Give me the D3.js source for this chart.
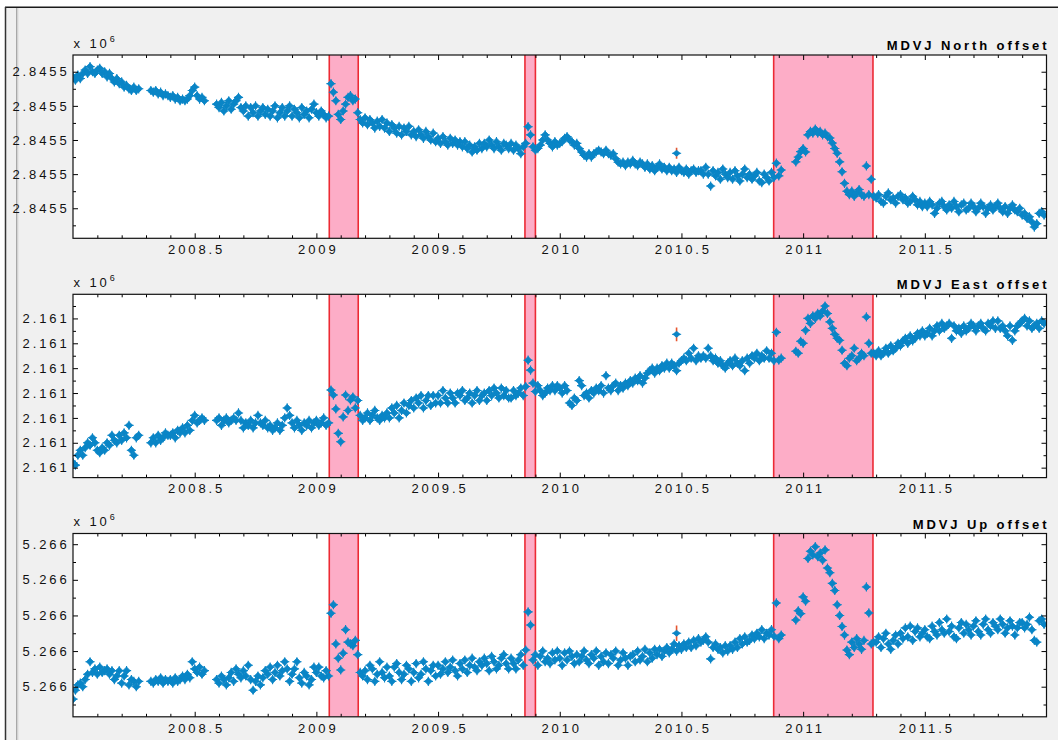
<!DOCTYPE html>
<html>
<head>
<meta charset="utf-8">
<script src="https://cdn.jsdelivr.net/npm/d3@7"></script>
<style>
  body { margin: 0; background: #fff; }
  text { font-family: "Liberation Sans", Arial, Helvetica, sans-serif; }
</style>
</head>
<body>
<svg id="chart" width="1058" height="740"></svg>
<script>
// ---------------- DATA (offsets in mm, one value per 0.01 yr from 2008.00; null = no data) -------------
const epochStart = 2008.00;
const epochStep = 0.01;

const northValues = [
  38.5, 37.5, 39, 38, 39.5, 40.5, 39.5, 41.5, 40, 39.5,
  40.5, 41, 39.5, 40, 38.5, 39.5, 38, 37, 38, 36.5,
  37, 35.5, 36, 35, 34.5, 35.5, 34.5, 35, null, null,
  null, null, 34.5, 34, 34.5, 33.5, 34, 33, 33.5, 33,
  32.5, 33, 32, 32.5, 31.5, 32, 31.5, 32, 33, 34.5,
  35.5, 33, 32, 32.5, 31.5, null, null, null, null, 30.5,
  29.5, 31, 28.5, 30, 31.5, 29, 30.5, 31.5, 32.5, 29.5,
  28.5, 30, 27, 29.5, 28, 30, 27, 28.5, 29.5, 27.5,
  29, 27, 28.5, 30, 26.5, 28, 29.5, 27, 28.5, 30,
  27, 29, 28, 26.5, 29.5, 27.5, 28.5, 26.5, 29, 30.5,
  28, 27, 28.5, 27.5, 26.5, 27, 36.5, 34, 31.5, 27.5,
  26, 28.5, 30.5, 32.5, 33, 31.5, 32, 28, 26, 25,
  26.5, 24.5, 26, 25, 23.5, 25.5, 24, 26, 23.5, 25,
  22.5, 24.5, 23.5, 22, 24, 21.5, 23.5, 22.5, 24, 21.5,
  22.5, 21, 23, 21.5, 20.5, 22.5, 21, 20, 22, 19.5,
  20.5, 19, 21, 19.5, 18.5, 20.5, 19, 20, 18.5, 19.5,
  18, 19.5, 17.5, 18.5, 16.5, 18, 17, 19, 17.5, 19,
  18, 20, 18.5, 17.5, 19.5, 18, 17, 19, 18.5, 17.5,
  19, 17, 18.5, 17.5, 16, 18, 19, 23.9, 21.5, 18,
  17, 17.5, 18.5, 20, 21.5, 20, 19, 18, 19.5, 18.5,
  19, 19.5, 20.5, 21, 20, 19.5, 18.5, 19, 17.5, 16.5,
  15.5, 15, 16, 15, 16, 16.5, 17, 16.5, 16, 17,
  16, 15.5, 16, 14.5, 13.5, 13, 13.5, 12.5, 13.5, 13,
  14, 13, 12.5, 13.5, 13, 12, 13, 11.5, 12.5, 11,
  12, 13, 11.5, 12, 11, 12, 11, 11.5, 10.5, 12,
  11, 10.5, 11.5, 10, 11, 11.5, 10.5, 11, 11, 10,
  12, 10, 6.5, 11, 9.5, 10.5, 8.5, 11.5, 10, 9,
  10.5, 8.5, 11, 9.5, 8, 10, 11.5, 9, 10, 8.5,
  9.5, 10.5, 8, 7.5, 10, 9, 8, 10.5, 9, 13.2,
  9.5, 11.2, null, null, null, null, null, 13.6, 15, 16.6,
  17.5, 16.5, 21.5, 22.5, 22, 23.2, 22, 22.5, 21.5, 22,
  21, 20.6, 19.1, 17.5, 16.1, 13.6, 10.7, 7.3, 5, 4,
  5, 3.5, 4.5, 5.5, 4, 3.5, 12.4, 4, 8.5, 3.5,
  3, 4, 2, 1.5, 3.5, 4.5, 2.5, 3, 1.5, 3.5,
  4, 2.5, 3, 1.5, 2, 3.5, 2.5, 1, 2, 0.5,
  1.5, 0.5, 2, 1, -1.5, 0, 1.5, 2, 0.5, -0.5,
  1, 0, 2, 0.5, -1, 1, 1.5, -0.5, 0, 1.5,
  0.5, -1, 0, 1.5, 0.5, -1.5, 0, 1, -0.5, 0.5,
  1.5, 0, -1, 0.5, -1.5, 0, 1, -0.5, -1, 0,
  -2, -1.5, -3, -2.5, -4, -5.5, -4.5, -1.5, -1, -2
];

const eastValues = [
  1, 0.5, 2.5, 3.5, 2.5, 4, 5, 4.5, 6, 5,
  3.5, 3, 4, 3.5, 5, 4.5, 6.5, 5.5, 5, 6.5,
  5.5, 7, 6, 8.5, 3.5, 2.5, 6, 6.5, null, null,
  null, null, 5, 6, 5, 6.5, 5.5, 6, 7, 6.5,
  6.5, 7, 6, 7.5, 7, 8, 7, 8.5, 7.5, 9.5,
  10.5, 9, 9.5, 10, 9.5, null, null, null, null, 9.5,
  10, 8.5, 9.5, 10, 9, 9.5, 10, 9.5, 11, 9.5,
  8, 9, 8.5, 9.5, 8, 9, 10.5, 9, 8.5, 9.5,
  8, 8.5, 7.5, 8, 9, 7.5, 8.5, 10, 12, 10.5,
  9, 8, 9.5, 8.5, 7.5, 9, 8.5, 9.5, 8, 9,
  9.5, 8.5, 9, 10, 8.5, 9, 15.6, 14.6, 11.8, 6.9,
  5.2, 10.2, 14.6, 11.5, 13.6, 14.2, 12, 13.5, 10.5, 9.5,
  10, 11, 9.5, 10.5, 11.5, 10, 9.5, 10.5, 10, 11,
  10, 12, 11, 12.5, 10, 11.5, 13, 11, 12.5, 13.5,
  12, 14, 13, 14.5, 12, 13.5, 14.5, 12.5, 14.5, 13,
  14.5, 13, 15.5, 14, 13, 15, 14, 13, 15, 14.5,
  15.5, 13.5, 14, 15, 13, 14.5, 15.5, 13.5, 14.5, 15,
  13.5, 15.5, 14.5, 16, 15, 14, 16, 14.5, 15.5, 14,
  14, 15.5, 14.5, 15, 16, 14.5, 16.3, 21.6, 19.6, 17,
  15.3, 16.5, 15.5, 14.5, 15, 16, 15.5, 16.5, 15.5, 16.5,
  16, 15, 16.5, 15.5, 13, 12.5, 14, 13.5, 17.5, 16.5,
  14.5, 15, 14, 15.5, 15, 16, 15.5, 16.5, 15, 18.5,
  16, 15.5, 16.5, 17, 15.5, 16.5, 16, 17, 16.5, 17.5,
  17, 18, 17.5, 18.5, 17, 18, 19, 19.5, 20, 19,
  20, 19.5, 20.5, 20, 21, 20, 21, 20.5, 19.5, 21,
  21.5, 22, 21.5, 23, 22, 24, 21.5, 22.5, 22, 22.5,
  22, 24, 22.5, 21.5, 22, 21, 21.5, 20.5, 20, 21,
  21.5, 20.5, 22, 21, 20.5, 21.5, 19.5, 22, 21, 22.5,
  22, 23, 21.5, 22.5, 22, 23.5, 22, 23, 21.5, 27.2,
  21.6, 22, null, null, null, null, null, 23.4, 23, 25.4,
  25, 27.6, 30, 29, 30.5, 30, 31, 30.5, 31.5, 32.5,
  31, 29.3, 28, 26.8, 26, 25.6, 23.6, 21, 20.5, 22,
  22.5, 24, 21.5, 22, 23, 22.5, 30.3, 25, 23, 23,
  22.5, 23.5, 22.5, 23, 24, 23, 24.5, 23.5, 24, 25,
  24.5, 25.5, 26, 25, 26.5, 25.5, 26, 27, 26.5, 27.5,
  26.5, 27, 28, 26.5, 27.5, 28.5, 27.5, 29, 28, 28.5,
  29, 26, 28.5, 27.5, 28, 27, 28.5, 27.5, 28, 29,
  28.5, 27.5, 28.5, 29, 28, 27.5, 29, 28.5, 29.5, 28,
  29.5, 28, 28.5, 27.5, 26.5, 28.5, 25.6, 27.5, 28.5, 29,
  29.5, 30, 28.5, 29.5, 28, 28.5, 29, 28, 29.5, 29
];

const upValues = [
  -3.5, -1, 0.5, 1, 0, 2, 3.5, 7, 4, 5,
  3.5, 5.5, 4, 4.5, 5, 3.5, 4.5, 2, 3, 4.5,
  1, 3, 4.5, 0.5, 2, 1.5, 0, 1.5, null, null,
  null, null, 1.5, 1, 2, 1.5, 2.5, 1, 2, 1.5,
  2, 1, 2.5, 1.5, 2, 3, 2, 3.5, 2.5, 7,
  5, 4, 5.5, 3.5, 4.5, null, null, null, null, 2,
  1, 3, 2, 0.5, 2.5, 4, 1.5, 5, 3.5, 2.5,
  4.5, 3, 6, 2, -1, 1.5, 3, 0.5, 2.5, 4.5,
  3.5, 5.5, 2, 4, 6, 3, 4.5, 7, 5, 1.5,
  3.5, 5, 7, 2.5, 1, 4, 3, 0.5, 2, 5.5,
  4, 5.5, 3, 2.5, 4.5, 3, 20.6, 23, 12, 8,
  4.7, 9.4, 16, 12.5, 12, 11.5, 13, 9, 4, 3,
  4.5, 2, 6, 5, 1.5, 3.5, 7, 4, 2.5, 5.5,
  3, 1.5, 5.5, 6.5, 4, 2, 3.5, 6, 5, 1.5,
  4, 6.5, 2.5, 3.5, 7, 5, 1.5, 4.5, 6, 3,
  6, 3.5, 5, 7, 4, 5.5, 7.5, 4.5, 3, 6.5,
  5, 7.5, 4, 6, 8, 5.5, 4.5, 7, 6, 8,
  6.5, 4.5, 8.5, 7, 5, 6, 8, 9, 6.5, 5,
  8, 6.5, 5, 7.5, 9, 6, 10.3, 21, 17.3, 7.5,
  9, 6, 8.5, 10, 7, 8, 6.5, 9.5, 7.5, 10,
  8, 6, 9.5, 7.5, 10, 8.5, 6.5, 9, 7, 8.5,
  10, 7.5, 6.5, 9, 8, 10, 6, 8.5, 7, 9.5,
  6.5, 9, 8, 10, 6, 7.5, 9.5, 8, 6, 8.5,
  9, 7, 10, 7.5, 8.5, 10.5, 7, 9.5, 8, 10.5,
  9, 10.5, 8.5, 10, 11, 9.5, 10.5, 12, 10, 11.5,
  10.5, 12, 11, 12.5, 11, 13, 11.5, 13.5, 12.5, 13,
  14, 12.5, 7.8, 11, 12, 10.5, 11, 9.5, 11.5, 10,
  11.5, 10.5, 12.5, 11, 13.5, 12, 14, 12.5, 13, 14.5,
  13.5, 15, 14, 16, 13.5, 15, 14.5, 16, 14.2, 23.5,
  13.5, 14.5, null, null, null, null, null, 18.7, 21.3, 20.5,
  25.2, 24, 36, 38, 37, 39.3, 36.5, 37.5, 35.5, 38.4,
  33.3, 32, 29, 27, 23, 20, 16.9, 14.5, 10.3, 9,
  12.5, 11, 13.5, 12, 10.5, 13, 28, 20.7, 12, 12.5,
  12.5, 14, 11, 13.5, 15, 12, 10.5, 13, 14.5, 12,
  15, 13.5, 16.5, 14, 17, 13, 15.5, 16.5, 14, 15,
  16, 14, 13.5, 17, 15.5, 14.5, 18, 16, 15, 19,
  15.5, 17, 14, 13.5, 16.5, 18, 15, 17.5, 16, 14.5,
  17, 18.5, 15.5, 14.5, 17.5, 19, 16, 15, 18, 17,
  16, 19, 17.5, 15, 16.5, 18.5, 17, 14.5, 16.5, 18,
  18, 16.5, 17.5, 19.5, 16, 13, 12.5, 18.5, 19, 17.5
];

// single epoch flagged with a large error bar
const outlierEpoch = 2010.48;
const outlierValues = [16.1, 26.8, 15];
const outlierErrors = [1.6, 1.4, 2.2];

// shaded event windows
const eventStarts = [2009.053, 2009.857, 2010.879];
const eventEnds   = [2009.172, 2009.900, 2011.287];

// axes
const xDomain = [2008, 2012];
const xMajorTicks = [2008.5, 2009, 2009.5, 2010, 2010.5, 2011, 2011.5];
const xTickLabels = ["2008.5", "2009", "2009.5", "2010", "2010.5", "2011", "2011.5"];

const northDomain = [-8.8, 44.9];
const northTicks = [0, 10, 20, 30, 40];
const northTickLabels = ["2.8455", "2.8455", "2.8455", "2.8455", "2.8455"];

const eastDomain = [-2.0, 34.85];
const eastTicks = [0, 5, 10, 15, 20, 25, 30];
const eastTickLabels = ["2.161", "2.161", "2.161", "2.161", "2.161", "2.161", "2.161"];

const upDomain = [-8.45, 43.0];
const upTicks = [0, 10, 20, 30, 40];
const upTickLabels = ["5.266", "5.266", "5.266", "5.266", "5.266"];

const panelTitles = ["MDVJ North offset", "MDVJ East offset", "MDVJ Up offset"];
const scaleNote = "x 10";
const scaleExp = "6";

// ---------------- LAYOUT / STYLE -------------
const W = 1058, H = 740;
const plotLeft = 73, plotRight = 1046.5;
const panelTops = [55, 294.3, 533.5];
const panelHeight = 183.3;
const BLUE = "#0a85c6";
const PINK = "#fdadc7";
const EDGE = "#ec2a34";
const ERR = "#e8552e";
const LS = 2.9; // letter spacing of the original rendering

const svg = d3.select("#chart");
svg.append("rect").attr("width", W).attr("height", H).attr("fill", "#fff");
svg.append("rect").attr("x", 5).attr("y", 7).attr("width", W - 5).attr("height", H - 7).attr("fill", "#f0f0f0");
svg.append("line").attr("x1", 5).attr("x2", W).attr("y1", 7.25).attr("y2", 7.25).attr("stroke", "#1a1a1a").attr("stroke-width", 1.5);
svg.append("line").attr("x1", 5.5).attr("x2", 5.5).attr("y1", 7).attr("y2", H).attr("stroke", "#333").attr("stroke-width", 1.5);
svg.append("line").attr("x1", 16.8).attr("x2", 16.8).attr("y1", 8).attr("y2", H).attr("stroke", "#9c9c9c").attr("stroke-width", 1.3);
svg.append("line").attr("x1", 18).attr("x2", 18).attr("y1", 8).attr("y2", H).attr("stroke", "#dcdcdc").attr("stroke-width", 1);

const x = d3.scaleLinear().domain(xDomain).range([plotLeft, plotRight]);
const epochs = northValues.map((_, i) => +(epochStart + i * epochStep).toFixed(2));
const xMinorTicks = d3.range(1, 40).map(i => +(xDomain[0] + i * 0.1).toFixed(1)).filter(t => Math.abs(t * 2 - Math.round(t * 2)) > 1e-6);

const marker = "M0,-3.7L3.7,0L0,3.7L-3.7,0Z";
const plusArm = 4.6;

const panels = [
  { title: panelTitles[0], values: northValues, domain: northDomain, ticks: northTicks, labels: northTickLabels, minorStep: 5 },
  { title: panelTitles[1], values: eastValues, domain: eastDomain, ticks: eastTicks, labels: eastTickLabels, minorStep: 2.5 },
  { title: panelTitles[2], values: upValues, domain: upDomain, ticks: upTicks, labels: upTickLabels, minorStep: 5 }
];

panels.forEach((p, k) => {
  const top = panelTops[k];
  const bottom = top + panelHeight;
  const y = d3.scaleLinear().domain(p.domain).range([bottom, top]);
  const g = svg.append("g");

  const clipId = "clip" + k;
  svg.append("clipPath").attr("id", clipId)
    .append("rect").attr("x", plotLeft).attr("y", top).attr("width", plotRight - plotLeft).attr("height", panelHeight);

  g.append("rect").attr("x", plotLeft).attr("y", top).attr("width", plotRight - plotLeft).attr("height", panelHeight).attr("fill", "#fff");

  const inner = g.append("g").attr("clip-path", `url(#${clipId})`);
  const events = eventStarts.map((s, i) => [s, eventEnds[i]]);
  inner.selectAll("rect.ev").data(events).join("rect")
    .attr("x", d => x(d[0])).attr("width", d => x(d[1]) - x(d[0]))
    .attr("y", top).attr("height", panelHeight).attr("fill", PINK);
  inner.selectAll("line.ev").data(events.flat()).join("line")
    .attr("x1", d => x(d)).attr("x2", d => x(d)).attr("y1", top).attr("y2", bottom)
    .attr("stroke", EDGE).attr("stroke-width", 1.6);

  const pts = epochs.map((t, i) => ({ t, v: p.values[i] })).filter(d => d.v !== null && d.v !== undefined);
  const pg = inner.selectAll("g.pt").data(pts).join("g")
    .attr("transform", d => `translate(${x(d.t)},${y(d.v)})`);
  pg.append("path").attr("d", marker).attr("fill", BLUE).attr("stroke", BLUE).attr("stroke-width", 0.8);
  pg.append("path").attr("d", `M0,${-plusArm}V${plusArm}M${-plusArm},0H${plusArm}`).attr("stroke", BLUE).attr("stroke-width", 1.1);

  // outlier with error bar
  const ov = outlierValues[k], oe = outlierErrors[k];
  inner.append("line").attr("x1", x(outlierEpoch)).attr("x2", x(outlierEpoch))
    .attr("y1", y(ov - oe)).attr("y2", y(ov + oe)).attr("stroke", ERR).attr("stroke-width", 1.6);
  const og = inner.append("g").attr("transform", `translate(${x(outlierEpoch)},${y(ov)})`);
  og.append("path").attr("d", "M0,-3L3.6,0L0,3L-3.6,0Z").attr("fill", BLUE).attr("stroke", BLUE).attr("stroke-width", 0.8);
  og.append("path").attr("d", `M${-plusArm},0H${plusArm}`).attr("stroke", BLUE).attr("stroke-width", 1);

  // axes
  const yMinor = d3.range(Math.ceil(p.domain[0] / p.minorStep), Math.floor(p.domain[1] / p.minorStep) + 1)
    .map(i => i * p.minorStep).filter(v => !p.ticks.includes(v));

  const styleAxis = sel => {
    sel.select(".domain").remove();
    sel.selectAll(".tick line").attr("stroke", "#000").attr("stroke-width", 1);
  };

  const axB = g.append("g").attr("transform", `translate(0,${bottom})`)
    .call(d3.axisBottom(x).tickValues(xMajorTicks).tickSize(-5).tickSizeOuter(0).tickPadding(6.5)
      .tickFormat((d, i) => xTickLabels[i]));
  styleAxis(axB);
  axB.selectAll("text").attr("font-size", 13).attr("fill", "#111")
    .style("font-family", '"Liberation Sans", Arial, sans-serif')
    .style("letter-spacing", LS + "px").attr("dx", LS / 2);

  g.append("g").attr("transform", `translate(0,${bottom})`)
    .call(d3.axisBottom(x).tickValues(xMinorTicks).tickSize(-3).tickSizeOuter(0).tickFormat(""))
    .call(styleAxis);
  g.append("g").attr("transform", `translate(0,${top})`)
    .call(d3.axisTop(x).tickValues(xMajorTicks).tickSize(-5).tickSizeOuter(0).tickFormat(""))
    .call(styleAxis);
  g.append("g").attr("transform", `translate(0,${top})`)
    .call(d3.axisTop(x).tickValues(xMinorTicks).tickSize(-3).tickSizeOuter(0).tickFormat(""))
    .call(styleAxis);

  const axL = g.append("g").attr("transform", `translate(${plotLeft},0)`)
    .call(d3.axisLeft(y).tickValues(p.ticks).tickSize(-5).tickSizeOuter(0).tickPadding(6.3)
      .tickFormat((d, i) => p.labels[i]));
  styleAxis(axL);
  axL.selectAll("text").attr("font-size", 13).attr("fill", "#111")
    .style("font-family", '"Liberation Sans", Arial, sans-serif')
    .style("letter-spacing", LS + "px").attr("dx", LS);

  g.append("g").attr("transform", `translate(${plotLeft},0)`)
    .call(d3.axisLeft(y).tickValues(yMinor).tickSize(-3).tickSizeOuter(0).tickFormat(""))
    .call(styleAxis);
  g.append("g").attr("transform", `translate(${plotRight},0)`)
    .call(d3.axisRight(y).tickValues(p.ticks).tickSize(-5).tickSizeOuter(0).tickFormat(""))
    .call(styleAxis);
  g.append("g").attr("transform", `translate(${plotRight},0)`)
    .call(d3.axisRight(y).tickValues(yMinor).tickSize(-3).tickSizeOuter(0).tickFormat(""))
    .call(styleAxis);

  // frame
  g.append("rect").attr("x", plotLeft).attr("y", top).attr("width", plotRight - plotLeft).attr("height", panelHeight)
    .attr("fill", "none").attr("stroke", "#111").attr("stroke-width", 1.2);

  // title
  g.append("text").attr("x", plotRight).attr("y", top - 5).attr("dx", LS)
    .attr("text-anchor", "end").attr("font-size", 13).attr("font-weight", "bold").attr("fill", "#000")
    .style("letter-spacing", LS + "px").text(p.title);

  // scale note "x 10^6"
  const sn = g.append("text").attr("x", plotLeft + 0.5).attr("y", top - 7.3)
    .attr("font-size", 13).attr("fill", "#111").style("letter-spacing", LS + "px");
  sn.append("tspan").text(scaleNote);
  sn.append("tspan").attr("dy", -6).attr("font-size", 9).style("letter-spacing", "0px").text(scaleExp);
});
</script>
</body>
</html>
